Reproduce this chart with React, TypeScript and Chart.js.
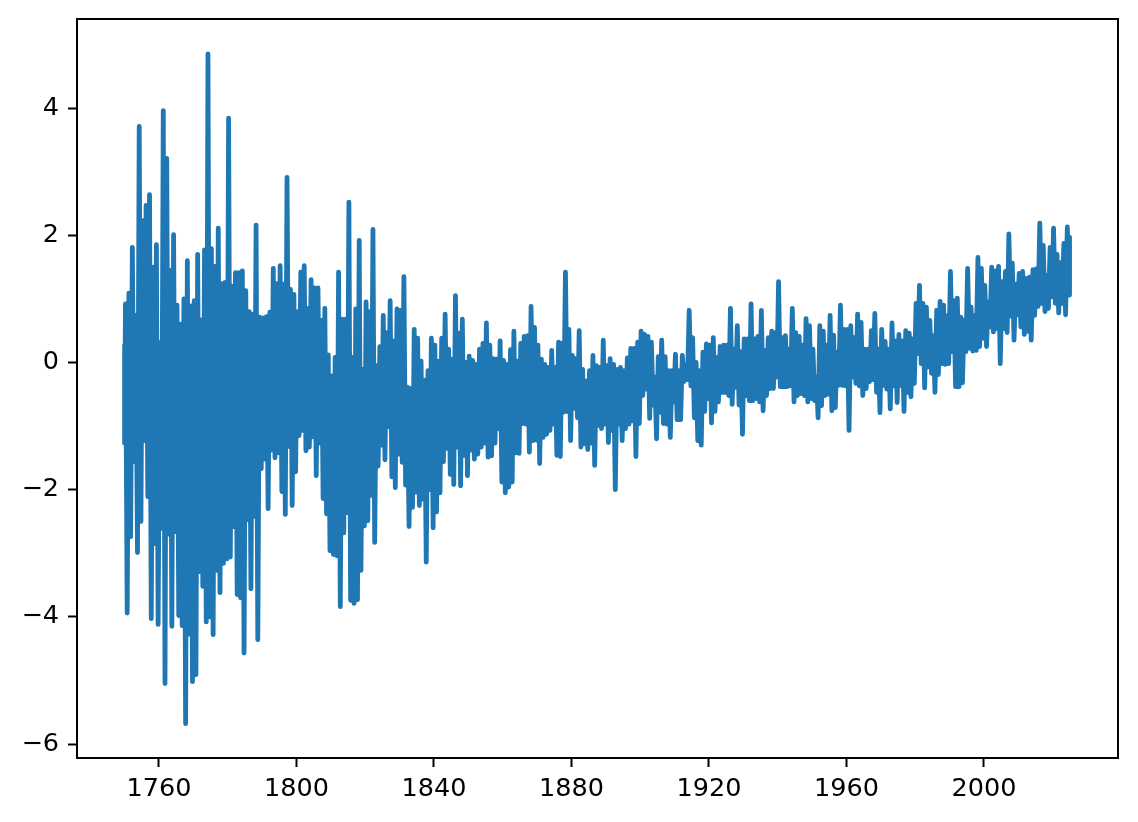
import React, { useEffect, useRef } from "react";
import { Chart, registerables } from "chart.js";

Chart.register(...registerables);

const xTickValues = [1760, 1800, 1840, 1880, 1920, 1960, 2000];
const yTickValues = [-6, -4, -2, 0, 2, 4];

const opening = [0.27, -1.27];
const closing = [1.97];

// Upper and lower swing of the series in each year, decade by decade.
const hi1750 = [0.92, 1.09, 1.81, 0.74, 3.71, 2.23, 2.47, 2.64, 1.5, 1.85];
const lo1750 = [-3.94, -2.74, -1.56, -2.99, -2.5, -1.23, -2.11, -4.03, -2.85, -4.12];
const hi1760 = [0.31, 3.96, 3.21, 1.45, 2.01, 0.9, 0.6, 1.0, 1.6, 0.89];
const lo1760 = [-2.61, -5.05, -2.7, -4.15, -2.66, -3.98, -4.14, -5.68, -4.27, -5.02];
const hi1770 = [0.97, 1.7, 0.67, 1.77, 4.85, 1.79, 1.51, 2.11, 1.24, 1.26];
const lo1770 = [-4.91, -3.29, -3.52, -4.08, -4.0, -4.28, -3.27, -3.62, -3.16, -3.09];
const hi1780 = [3.84, 1.2, 1.41, 1.41, 1.44, 1.13, 0.8, 0.76, 2.16, 0.71];
const lo1780 = [-3.06, -2.58, -3.65, -3.7, -4.57, -2.47, -3.56, -2.42, -4.36, -1.67];
const hi1790 = [0.7, 0.72, 0.79, 1.48, 1.24, 1.52, 1.23, 2.91, 1.15, 1.07];
const lo1790 = [-1.52, -2.3, -1.38, -1.5, -1.42, -2.03, -2.39, -1.32, -2.25, -1.72];
const hi1800 = [0.8, 1.42, 1.52, 0.85, 1.3, 1.17, 1.17, 0.66, 0.85, 0.12];
const lo1800 = [-1.15, -1.07, -1.39, -1.33, -1.17, -1.78, -1.27, -2.14, -2.38, -2.96];
const hi1810 = [-0.21, 0.08, 1.42, 0.68, 0.68, 2.52, 0.08, 0.84, 1.92, -0.11];
const lo1810 = [-3.02, -3.04, -3.84, -2.68, -2.36, -3.74, -3.79, -3.73, -3.27, -2.57];
const hi1820 = [0.95, 0.8, 2.09, -0.05, 0.25, 0.74, 0.47, 0.97, 0.34, 0.84];
const lo1820 = [-2.49, -2.09, -2.83, -1.63, -1.3, -1.53, -1.01, -1.8, -1.97, -1.44];
const hi1830 = [0.82, 1.35, -0.39, -0.41, 0.52, 0.38, 0.02, -0.28, -0.13, 0.38];
const lo1830 = [-1.57, -1.93, -2.58, -2.28, -2.04, -2.25, -2.15, -3.14, -2.0, -2.6];
const hi1840 = [0.27, 0.02, 0.38, 0.76, 0.21, 0.05, 1.05, 0.46, 0.68, 0.0];
const lo1840 = [-2.35, -2.05, -1.56, -1.35, -1.76, -1.92, -1.33, -1.94, -1.46, -1.78];
const hi1850 = [0.1, 0.03, -0.03, 0.21, 0.3, 0.62, 0.27, 0.06, 0.05, 0.34];
const lo1850 = [-1.38, -1.52, -1.44, -1.33, -1.27, -1.49, -1.47, -1.27, -1.04, -1.88];
const hi1860 = [0.03, -0.03, 0.2, 0.49, 0.02, 0.3, 0.41, 0.42, 0.88, 0.55];
const lo1860 = [-2.05, -1.96, -1.88, -1.42, -1.43, -0.96, -0.97, -1.41, -1.23, -1.22];
const hi1870 = [0.27, 0.05, -0.03, -0.08, 0.19, -0.08, 0.32, 0.3, 1.42, 0.52];
const lo1870 = [-1.59, -1.18, -1.13, -1.07, -0.97, -1.46, -1.48, -0.78, -0.77, -1.23];
const hi1880 = [0.11, 0.06, 0.5, -0.11, -0.29, -0.13, 0.11, -0.05, -0.08, 0.35];
const lo1880 = [-0.72, -0.87, -1.33, -1.28, -1.37, -1.27, -1.62, -0.99, -1.04, -0.97];
const hi1890 = [-0.05, 0.06, -0.03, -0.11, -0.08, -0.13, 0.07, 0.22, 0.22, 0.32];
const lo1890 = [-1.26, -1.07, -2.0, -0.97, -1.23, -1.04, -0.97, -0.92, -1.48, -0.96];
const hi1900 = [0.49, 0.44, 0.41, 0.32, -0.23, 0.09, 0.35, 0.09, -0.13, -0.13];
const lo1900 = [-0.52, -0.42, -0.88, -0.67, -1.2, -0.78, -0.96, -0.97, -1.18, -0.62];
const hi1910 = [0.13, -0.13, 0.11, -0.03, 0.82, 0.39, 0.0, -0.13, 0.16, 0.29];
const lo1910 = [-0.9, -0.9, -0.3, -0.27, -0.37, -0.87, -1.23, -1.3, -0.77, -0.57];
const hi1920 = [0.27, 0.39, 0.08, 0.25, 0.27, 0.27, 0.85, 0.21, 0.58, 0.17];
const lo1920 = [-0.95, -0.77, -0.62, -0.47, -0.47, -0.52, -0.66, -0.39, -0.67, -1.13];
const hi1930 = [0.37, 0.37, 0.92, 0.37, 0.41, 0.82, 0.19, 0.39, 0.49, 0.47];
const lo1930 = [-0.52, -0.6, -0.6, -0.57, -0.62, -0.76, -0.52, -0.41, -0.41, -0.23];
const hi1940 = [1.27, 0.39, 0.42, 0.21, 0.85, 0.47, 0.41, 0.27, 0.69, 0.58];
const lo1940 = [-0.38, -0.38, -0.38, -0.37, -0.62, -0.52, -0.49, -0.52, -0.62, -0.57];
const hi1950 = [0.21, -0.23, 0.58, 0.49, 0.27, 0.74, 0.43, 0.16, 0.9, 0.52];
const lo1950 = [-0.6, -0.87, -0.68, -0.52, -0.5, -0.76, -0.71, -0.36, -0.36, -0.37];
const hi1960 = [0.52, 0.58, 0.39, 0.76, 0.63, 0.21, 0.21, 0.5, 0.77, 0.21];
const lo1960 = [-1.07, -0.23, -0.33, -0.37, -0.52, -0.41, -0.3, -0.27, -0.47, -0.79];
const hi1970 = [0.52, 0.33, 0.21, 0.62, 0.34, 0.44, 0.34, 0.5, 0.46, 0.37];
const lo1970 = [-0.36, -0.42, -0.73, -0.37, -0.63, -0.36, -0.77, -0.47, -0.54, -0.33];
const hi1980 = [0.93, 1.21, 0.93, 0.87, 0.66, 0.42, 0.82, 0.96, 0.9, 0.73];
const lo1980 = [0.14, -0.02, -0.4, -0.07, -0.17, -0.47, -0.19, -0.02, -0.03, -0.02];
const hi1990 = [1.43, 0.97, 1.01, 0.71, 0.67, 1.48, 0.87, 0.74, 1.65, 1.48];
const lo1990 = [0.17, -0.38, -0.38, -0.32, 0.17, 0.22, 0.18, 0.19, 0.25, 0.38];
const hi2000 = [1.21, 0.95, 1.5, 1.44, 1.51, 1.27, 1.43, 2.02, 1.56, 1.23];
const lo2000 = [0.25, 0.56, 0.48, 0.53, -0.02, 0.53, 0.47, 0.73, 0.35, 0.75];
const hi2010 = [1.4, 1.43, 1.32, 1.34, 1.46, 1.47, 2.19, 1.84, 1.37, 1.81];
const lo2010 = [0.56, 0.44, 0.49, 0.35, 0.74, 0.88, 0.93, 0.8, 0.85, 1.03];
const hi2020 = [2.11, 1.7, 1.57, 1.87, 2.13];
const lo2020 = [0.93, 0.78, 0.93, 0.75, 1.06];

const decades: [number, number[], number[]][] = [
  [1750, hi1750, lo1750], [1760, hi1760, lo1760], [1770, hi1770, lo1770], [1780, hi1780, lo1780],
  [1790, hi1790, lo1790], [1800, hi1800, lo1800], [1810, hi1810, lo1810], [1820, hi1820, lo1820],
  [1830, hi1830, lo1830], [1840, hi1840, lo1840], [1850, hi1850, lo1850], [1860, hi1860, lo1860],
  [1870, hi1870, lo1870], [1880, hi1880, lo1880], [1890, hi1890, lo1890], [1900, hi1900, lo1900],
  [1910, hi1910, lo1910], [1920, hi1920, lo1920], [1930, hi1930, lo1930], [1940, hi1940, lo1940],
  [1950, hi1950, lo1950], [1960, hi1960, lo1960], [1970, hi1970, lo1970], [1980, hi1980, lo1980],
  [1990, hi1990, lo1990], [2000, hi2000, lo2000], [2010, hi2010, lo2010], [2020, hi2020, lo2020],
];

function buildPoints() {
  const points: { x: number; y: number }[] = opening.map((y) => ({ x: 1750, y }));
  for (const [start, hi, lo] of decades) {
    hi.forEach((value, i) => {
      points.push({ x: start + i + 0.25, y: value });
      points.push({ x: start + i + 0.75, y: lo[i] });
    });
  }
  closing.forEach((y) => points.push({ x: 2024.9, y }));
  return points;
}

const frame = {
  id: "frame",
  afterDatasetsDraw(chart: any) {
    const { ctx, chartArea: a } = chart;
    ctx.save();
    ctx.strokeStyle = "#000";
    ctx.lineWidth = 2;
    ctx.strokeRect(a.left, a.top, a.right - a.left, a.bottom - a.top);
    ctx.restore();
  },
};

export default function App() {
  const ref = useRef<HTMLCanvasElement>(null);
  useEffect(() => {
    const font = { family: "'DejaVu Sans'", size: 25.5 };
    const grid = { display: true, drawOnChartArea: false, drawTicks: true, tickLength: 9, tickWidth: 2, tickColor: "#000" };
    const chart = new Chart(ref.current!, {
      type: "line",
      data: {
        datasets: [
          {
            data: buildPoints(),
            borderColor: "#1f77b4",
            borderWidth: 4.8,
            pointRadius: 0,
            tension: 0,
            fill: false,
            borderJoinStyle: "round",
            borderCapStyle: "round",
          },
        ],
      },
      options: {
        responsive: false,
        animation: false,
        layout: { padding: { top: 19, right: 20, left: 0, bottom: 0 } },
        plugins: { legend: { display: false }, tooltip: { enabled: false } },
        scales: {
          x: {
            type: "linear",
            min: 1736.15,
            max: 2039,
            grid,
            border: { display: false },
            afterBuildTicks: (s: any) => { s.ticks = xTickValues.map((value) => ({ value })); },
            afterFit: (s: any) => { s.height = 822 - 758; s.paddingLeft = 0; s.paddingRight = 0; },
            ticks: {
              color: "#000",
              font,
              padding: 7,
              autoSkip: false,
              maxRotation: 0,
              callback: (v: any) => String(v),
            },
          },
          y: {
            type: "linear",
            min: -6.22,
            max: 5.4,
            grid,
            border: { display: false },
            afterBuildTicks: (s: any) => { s.ticks = yTickValues.map((value) => ({ value })); },
            afterFit: (s: any) => { s.width = 77; s.paddingTop = 0; s.paddingBottom = 0; },
            ticks: {
              color: "#000",
              font,
              padding: 9,
              autoSkip: false,
              callback: (v: any) => String(v).replace("-", "\u2212"),
            },
          },
        },
      },
      plugins: [frame],
    } as any);
    return () => chart.destroy();
  }, []);
  return (
    <canvas
      ref={ref}
      width={1138}
      height={822}
      style={{ position: "absolute", left: 0, top: 0, width: 1138, height: 822, display: "block" }}
    />
  );
}
